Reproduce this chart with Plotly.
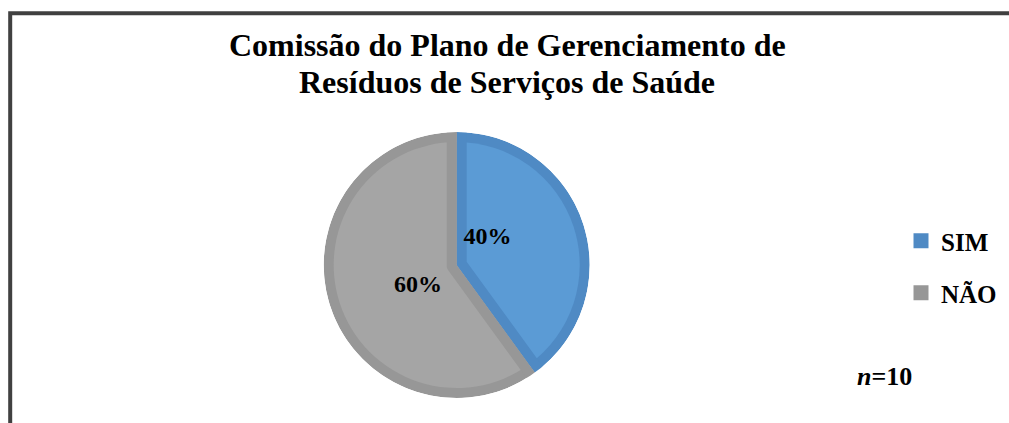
import math
import plotly.graph_objects as go

# ---------------- data ----------------
title_lines = ["Comissão do Plano de Gerenciamento de", "Resíduos de Serviços de Saúde"]
categories = ["SIM", "NÃO"]
values = [40, 60]
fill_colors = ["#5B9BD5", "#A5A5A5"]
edge_colors = ["#4F8AC4", "#979797"]
note_text = "<i>n</i>=10"

# ---------------- geometry (pixels) ----------------
W, H = 1009, 423
CX, CY = 456.7, 265.0      # pie centre (from top-left)
R_OUT = 133.0              # outer radius incl. rim
EDGE = 10.0                # slice border thickness
R_BAND = 145.0
R_MASK = 158.0
SERIF = "Liberation Serif"


def dom(cx, cy, r):
    cyb = H - cy
    return dict(x=[(cx - r) / W, (cx + r) / W],
                y=[max(0.0, (cyb - r) / H), min(1.0, (cyb + r) / H)])


common = dict(values=values, labels=categories, sort=False, direction="clockwise",
              showlegend=False, hoverinfo="skip", textinfo="none")
clear = ["rgba(0,0,0,0)"] * len(values)

fig = go.Figure()

# rim colour base
fig.add_trace(go.Pie(domain=dom(CX, CY, R_OUT),
                     marker=dict(colors=edge_colors, line=dict(width=0)), **common))
# inner fill
fig.add_trace(go.Pie(domain=dom(CX, CY, R_OUT - EDGE),
                     marker=dict(colors=fill_colors, line=dict(width=0)), **common))

# inner borders along radial edges, one per slice
total = float(sum(values))
start = 0.0
for i, v in enumerate(values):
    span = 360.0 * v / total
    bis = math.radians(start + span / 2)
    half = math.radians(span / 2)
    d = (EDGE / 2) / math.sin(half)
    cx = CX + d * math.sin(bis)
    cy = CY - d * math.cos(bis)
    lc = list(clear)
    lc[i] = edge_colors[i]
    fig.add_trace(go.Pie(domain=dom(cx, cy, R_BAND),
                         marker=dict(colors=clear, line=dict(color=lc, width=EDGE)),
                         **common))
    start += span

# white mask outside the pie
fig.add_trace(go.Pie(values=[1], labels=[" "], sort=False, showlegend=False,
                     hoverinfo="skip", textinfo="none", hole=R_OUT / R_MASK,
                     domain=dom(CX, CY, R_MASK),
                     marker=dict(colors=["#FFFFFF"], line=dict(width=0))))

# percentage labels
LCX, LCY, LR, LROT = 452.3, 260.5, 83.7, -16.8
fig.add_trace(go.Pie(values=values, labels=categories, sort=False, direction="clockwise",
                     rotation=LROT, showlegend=False, hoverinfo="skip",
                     domain=dom(LCX, LCY, LR),
                     marker=dict(colors=clear, line=dict(width=0)),
                     textinfo="percent", textposition="inside",
                     insidetextorientation="horizontal",
                     textfont=dict(family=SERIF, size=24, color="#000000", weight="bold")))

# legend entries
for i, cat in enumerate(categories):
    fig.add_trace(go.Scatter(x=[None], y=[None], mode="markers", name=cat,
                             legendgroup=cat, showlegend=True, hoverinfo="skip",
                             marker=dict(symbol="square", size=15, color=edge_colors[i])))

TITLE_FS = 32
title_centres = [45.1, 82.1]   # vertical centres of the two title lines (px from top)
annotations = [dict(text=line, x=507 / W, xanchor="center", xref="paper",
                    y=1 - yc / H, yanchor="middle", yref="paper", showarrow=False,
                    font=dict(family=SERIF, size=TITLE_FS, color="#000000", weight="bold"))
               for line, yc in zip(title_lines, title_centres)]
annotations.append(dict(text=note_text, x=855 / W, xanchor="left", xref="paper",
                        y=1 - 376.6 / H, yanchor="middle", yref="paper", showarrow=False,
                        font=dict(family=SERIF, size=26, color="#000000", weight="bold")))

fig.update_layout(
    width=W, height=H,
    margin=dict(l=0, r=0, t=0, b=0),
    paper_bgcolor="#FFFFFF", plot_bgcolor="#FFFFFF",
    xaxis=dict(visible=False), yaxis=dict(visible=False),
    legend=dict(x=901 / W, xanchor="left", y=1 - 218 / H, yanchor="top",
                tracegroupgap=16.5, itemwidth=30,
                font=dict(family=SERIF, size=25, color="#000000", weight="bold"),
                bgcolor="rgba(0,0,0,0)"),
    annotations=annotations,
    shapes=[dict(type="rect", xref="paper", yref="paper",
                 x0=10.2 / W, x1=1.05, y0=-0.05, y1=1 - 13.3 / H,
                 line=dict(color="#404040", width=4), fillcolor="rgba(0,0,0,0)",
                 layer="above")],
    showlegend=True,
)

js = "document.body.style.margin='0';"
fig.write_html("out.html", post_script=js, config={"displayModeBar": False})
